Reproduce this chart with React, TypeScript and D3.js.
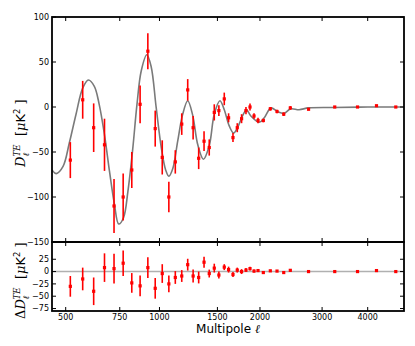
import React from 'react';
import { scaleLinear, scalePow, line, curveCatmullRom } from 'd3';

// binned TE points
const ells = [518, 569, 618, 670, 719, 769, 819, 870, 920, 970, 1020, 1069, 1119, 1171, 1221, 1268, 1318, 1368, 1418, 1468, 1515, 1572, 1619, 1668, 1717, 1768, 1821, 1871, 1922, 1974, 2045, 2142, 2239, 2340, 2443, 2750, 3252, 3754, 4224, 4756];
const dl = [-59, 8, -23, -42, -110, -100, -70, 3, 62, -24, -56, -100, -61, -19, 19, -23, -57, -38, -45, -6, -4, 9, -12, -34, -23, -13, -4, 0, -10, -15, -15, -2, -5, -8, -1, -2.5, 0, 0, 1.4, 0];
const dlErr = [20, 21, 27, 29, 30, 26, 20, 21, 20, 20, 19, 17, 13, 12, 12, 13, 12, 11, 9, 9, 6, 7, 5, 5, 5, 5, 4, 4, 3, 3, 2, 2, 2, 2, 2, 1, 1, 1, 1, 1];
const resid = [-30, -15, -40, 8, 6, 17, -23, -29, 8, -34, -4, -25, -12, -9, 14, -9, -12, 19, -4, 7, -7, 9, 4, -6, 3, 0, 3, 6, 1, 2, -2, 1.5, 1, -2, 2.5, 0, 0, 0, 2, 0];
const residErr = [21, 23, 28, 29, 30, 26, 20, 21, 21, 21, 19, 17, 13, 12, 12, 13, 12, 11, 8, 9, 7, 6, 6, 5, 5, 5, 4, 4, 3, 3, 2, 2, 2, 2, 2, 1, 1, 1, 1, 1];

// best-fit model curve
const modelEll = [450, 465, 490, 514, 541, 569, 594, 621, 644, 670, 695, 721, 744, 771, 796, 825, 850, 877, 913, 942, 977, 1013, 1045, 1069, 1100, 1138, 1177, 1221, 1264, 1310, 1362, 1418, 1468, 1526, 1572, 1626, 1675, 1720, 1779, 1827, 1882, 1991, 2058, 2152, 2244, 2344, 2449, 2587, 2750, 3230, 4000, 5000];
const modelDl = [-70, -74, -66, -40, -8, 21, 30, 23, 3, -31, -71, -108, -130, -123, -94, -46, 2, 40, 58, 45, -1, -45, -70, -77, -68, -38, -9, 7, -9, -42, -58, -43, -8, 7, -3, -21, -29, -23, -10, -3, -10, -17, -12, -1, -5, -7, -2, -3, -1, -0.5, 0, 0];

const xTicks = [500, 750, 1000, 1500, 2000, 3000, 4000];
const mainTicks = [100, 50, 0, -50, -100, -150];
const residTicks = [25, 0, -25, -50, -75];

const W = 415, H = 346;
const left = 52, right = 404, top = 17, mid = 242, bottom = 311;
const tickFont = 'DejaVu Sans, sans-serif';

export default function App() {
  const x = scalePow().exponent(0.1).domain([450, 5000]).range([left, right]);
  const yMain = scaleLinear().domain([-150, 100]).range([mid, top]);
  const yRes = scaleLinear().domain([-80, 60]).range([bottom, mid]);

  const modelPts = modelEll.map((l, i) => [l, modelDl[i]] as [number, number]);
  const modelPath = line<[number, number]>()
    .x(d => x(d[0]))
    .y(d => yMain(d[1]))
    .curve(curveCatmullRom)(modelPts);

  const tickLen = 4;

  // error bars + square markers
  const points = (ys: number[], errs: number[], y: (v: number) => number) =>
    ells.map((l, i) => (
      <g key={i}>
        <line x1={x(l)} x2={x(l)} y1={y(ys[i] - errs[i])} y2={y(ys[i] + errs[i])} stroke="#ff0000" strokeWidth={1.6} />
        <rect x={x(l) - 1.6} y={y(ys[i]) - 1.6} width={3.2} height={3.2} fill="#ff0000" />
      </g>
    ));

  return (
    <svg width={W} height={H} style={{ position: 'absolute', left: 0, top: 0, background: '#fff' }}>
      <defs>
        <clipPath id="mainClip"><rect x={left} y={top} width={right - left} height={mid - top} /></clipPath>
        <clipPath id="resClip"><rect x={left} y={mid} width={right - left} height={bottom - mid} /></clipPath>
      </defs>

      {/* main panel */}
      <g clipPath="url(#mainClip)">
        <path d={modelPath || ''} fill="none" stroke="#7a7a7a" strokeWidth={1.6} />
        {points(dl, dlErr, yMain)}
      </g>

      {/* residual panel */}
      <g clipPath="url(#resClip)">
        <line x1={left} x2={right} y1={yRes(0)} y2={yRes(0)} stroke="#b0b0b0" strokeWidth={1.5} />
        {points(resid, residErr, yRes)}
      </g>

      {/* ticks */}
      <g stroke="#000" strokeWidth={1}>
        {xTicks.map(t => (
          <g key={t}>
            <line x1={x(t)} x2={x(t)} y1={top} y2={top + tickLen} />
            <line x1={x(t)} x2={x(t)} y1={mid} y2={mid - tickLen} />
            <line x1={x(t)} x2={x(t)} y1={mid} y2={mid + tickLen} />
            <line x1={x(t)} x2={x(t)} y1={bottom} y2={bottom - tickLen} />
          </g>
        ))}
        {mainTicks.map(t => (
          <g key={t}>
            <line x1={left} x2={left + tickLen} y1={yMain(t)} y2={yMain(t)} />
            <line x1={right} x2={right - tickLen} y1={yMain(t)} y2={yMain(t)} />
          </g>
        ))}
        {residTicks.map(t => (
          <g key={t}>
            <line x1={left} x2={left + tickLen} y1={yRes(t)} y2={yRes(t)} />
            <line x1={right} x2={right - tickLen} y1={yRes(t)} y2={yRes(t)} />
          </g>
        ))}
      </g>

      {/* frames */}
      <rect x={left} y={top} width={right - left} height={mid - top} fill="none" stroke="#000" strokeWidth={1.8} />
      <rect x={left} y={mid} width={right - left} height={bottom - mid} fill="none" stroke="#000" strokeWidth={1.8} />

      {/* tick labels */}
      <g fontFamily={tickFont} fontSize={8} fill="#000">
        {mainTicks.map(t => (
          <text key={t} x={left - 3} y={yMain(t)} dy="0.35em" textAnchor="end">{t < 0 ? '\u2212' + Math.abs(t) : t}</text>
        ))}
        {residTicks.map(t => (
          <text key={t} x={left - 3} y={yRes(t)} dy="0.35em" textAnchor="end">{t < 0 ? '\u2212' + Math.abs(t) : t}</text>
        ))}
        {xTicks.map(t => (
          <text key={t} x={x(t)} y={bottom + 9} textAnchor="middle">{t}</text>
        ))}
      </g>

      {/* axis labels */}
      <text x={(left + right) / 2} y={333} textAnchor="middle" fontFamily={tickFont} fontSize={12}>
        Multipole <tspan fontFamily="DejaVu Serif, serif" fontStyle="italic">ℓ</tspan>
      </text>

      <g transform={`translate(25, 133) rotate(-90)`} fontFamily="DejaVu Serif, serif" fill="#000">
        <text x={-34} y={0} fontSize={13} fontStyle="italic">D</text>
        <text x={-23.5} y={-5} fontSize={8.5} fontStyle="italic">TE</text>
        <text x={-23.5} y={3.5} fontSize={8.5} fontStyle="italic">ℓ</text>
        <text x={-3} y={0} fontSize={13}>
          [<tspan fontStyle="italic">μ</tspan><tspan fontFamily={tickFont}>K</tspan><tspan fontSize={8.5} dy={-5} fontFamily={tickFont}>2</tspan><tspan dy={5}> ]</tspan>
        </text>
      </g>

      <g transform={`translate(25, 277) rotate(-90)`} fontFamily="DejaVu Serif, serif" fill="#000">
        <text x={-42} y={0} fontSize={13}>Δ<tspan fontStyle="italic">D</tspan></text>
        <text x={-22.5} y={-5} fontSize={8.5} fontStyle="italic">TE</text>
        <text x={-22.5} y={3.5} fontSize={8.5} fontStyle="italic">ℓ</text>
        <text x={-2} y={0} fontSize={13}>
          [<tspan fontStyle="italic">μ</tspan><tspan fontFamily={tickFont}>K</tspan><tspan fontSize={8.5} dy={-5} fontFamily={tickFont}>2</tspan><tspan dy={5}> ]</tspan>
        </text>
      </g>
    </svg>
  );
}
